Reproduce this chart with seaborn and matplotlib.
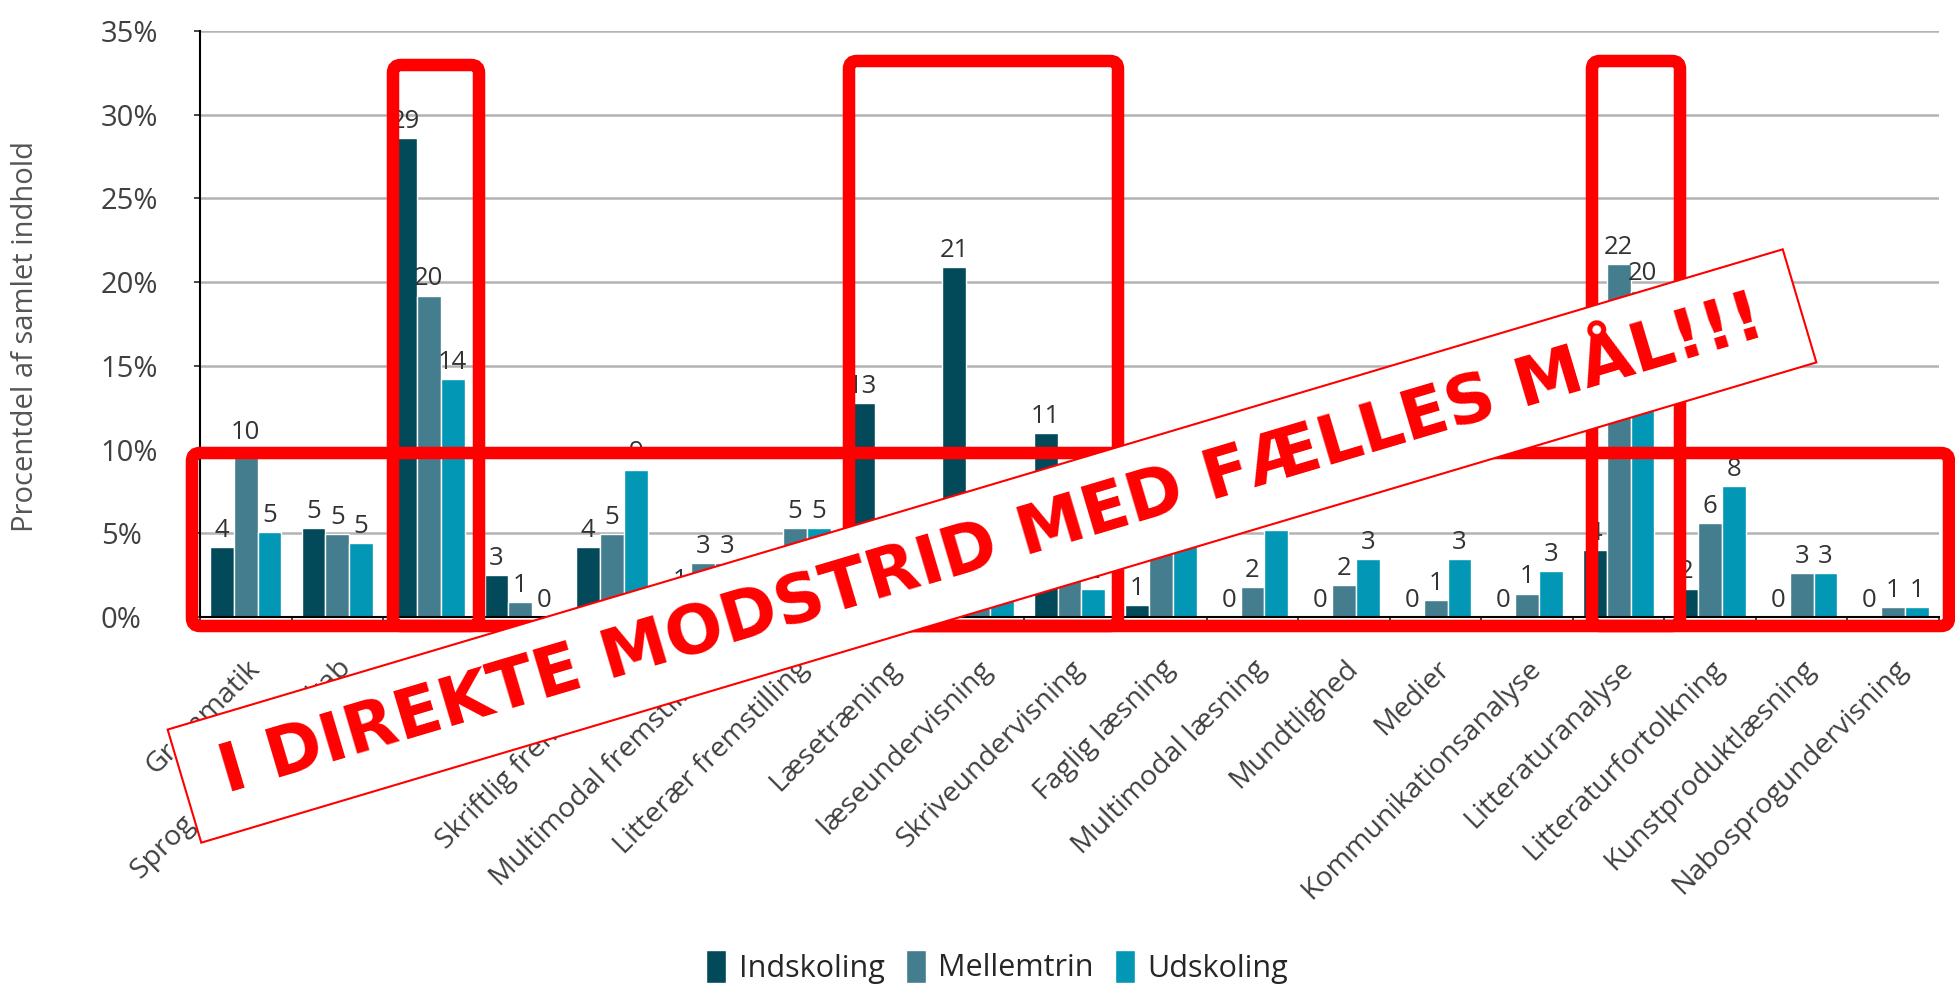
import numpy as np
import pandas as pd
import seaborn as sns
import matplotlib.pyplot as plt
from matplotlib.patches import Rectangle, FancyBboxPatch
from matplotlib.transforms import IdentityTransform

# Kategorier og andele (procent af samlet indhold)
kategorier = ["Grammatik", "Sprog og ordkendskab", "Retskrivning", "Håndskrift",
              "Skriftlig fremstilling", "Multimodal fremstilling", "Litterær fremstilling",
              "Læsetræning", "læseundervisning", "Skriveundervisning", "Faglig læsning",
              "Multimodal læsning", "Mundtlighed", "Medier", "Kommunikationsanalyse",
              "Litteraturanalyse", "Litteraturfortolkning", "Kunstproduktlæsning",
              "Nabosprogundervisning"]
trin = ["Indskoling", "Mellemtrin", "Udskoling"]

indskoling = [4.2, 5.3, 28.6, 2.5, 4.2, 1.2, 1.0, 12.8, 20.9, 11.0, 0.7, 0, 0, 0, 0, 4.0, 1.7, 0, 0]
mellemtrin = [10.0, 4.95, 19.2, 0.9, 4.95, 3.2, 5.3, 3.0, 3.0, 3.0, 4.0, 1.8, 1.9, 1.0, 1.4, 21.1, 5.6, 2.6, 0.6]
udskoling = [5.05, 4.4, 14.2, 0, 8.8, 3.2, 5.3, 1.6, 1.5, 1.7, 4.5, 5.2, 3.45, 3.45, 2.75, 19.5, 7.8, 2.6, 0.6]

# dataetiketter som i originalen
etiket_ind = ["4", "5", "29", "3", "4", "1", "1", "13", "21", "11", "1", "0", "0", "0", "0", "4", "2", "0", "0"]
etiket_mel = ["10", "5", "20", "1", "5", "3", "5", "3", "3", "3", "4", "2", "2", "1", "1", "22", "6", "3", "1"]
etiket_ud = ["5", "5", "14", "0", "9", "3", "5", "2", "2", "2", "5", "5", "3", "3", "3", "20", "8", "3", "1"]

farver = ["#024a59", "#447d8d", "#0197b5"]

df = pd.DataFrame({
    "Kategori": kategorier * 3,
    "Trin": np.repeat(trin, len(kategorier)),
    "Andel": indskoling + mellemtrin + udskoling,
})

sns.set_theme(style="white")
plt.rcParams['font.family'] = ['Open Sans', 'DejaVu Sans']

W, H = 1955, 989
fig = plt.figure(figsize=(W / 100, H / 100), dpi=100)
ax = fig.add_axes([200 / W, 1 - 617 / H, 1739 / W, 586 / H])

sns.barplot(data=df, x="Kategori", y="Andel", hue="Trin", palette=farver,
            width=0.78, saturation=1, errorbar=None, ax=ax)

for cont, etiketter in zip(ax.containers, [etiket_ind, etiket_mel, etiket_ud]):
    ax.bar_label(cont, labels=etiketter, padding=3, fontsize=18.5, color="#333333")

ax.set_ylim(0, 35)
ax.set_xlim(-0.5, len(kategorier) - 0.5)
ax.set_yticks(range(0, 36, 5))
ax.set_yticklabels([f"{v}%" for v in range(0, 36, 5)])
ax.tick_params(axis="y", length=4.5, width=1.2, pad=67, labelsize=21,
               labelcolor="#404040", left=True, direction="out")
for lbl in ax.get_yticklabels():
    lbl.set_horizontalalignment("left")

ax.set_xticks(range(len(kategorier)))
ax.set_xticklabels(kategorier, rotation=45, ha="right", rotation_mode="anchor",
                   fontsize=20.5, color="#404040")
ax.tick_params(axis="x", which="major", length=0, pad=27)
ax.set_xticks(np.arange(-0.5, len(kategorier), 1), minor=True)
ax.tick_params(axis="x", which="minor", length=6, width=1.2, bottom=True, direction="out")

ax.yaxis.grid(True, color="#b3b3b3", lw=1.8)
ax.set_axisbelow(True)
sns.despine(ax=ax)
for s in ["left", "bottom"]:
    ax.spines[s].set_color("black")
    ax.spines[s].set_linewidth(1.5)

ax.set_xlabel("")
ax.set_ylabel("Procentdel af samlet indhold", fontsize=21, color="#555555")
ax.yaxis.set_label_coords(-0.092, 0.478)

sns.move_legend(ax, "lower center", bbox_to_anchor=(997 / W, -22 / H),
                bbox_transform=fig.transFigure, ncol=3, frameon=False, title=None,
                fontsize=22, handlelength=0.65, handleheight=1.3,
                columnspacing=0.7, handletextpad=0.4)

# røde markeringer (pixelkoordinater fra toppen)
bokse = [(192, 453, 1949, 626), (393, 65, 479, 626), (849, 61, 1118, 626), (1592, 61, 1680, 626)]
for x0, y0, x1, y1 in bokse:
    fig.add_artist(FancyBboxPatch((x0, H - y1), x1 - x0, y1 - y0,
                                  boxstyle="round,pad=0,rounding_size=8",
                                  transform=IdentityTransform(), fill=False,
                                  ec="#ff0000", lw=9, zorder=5))

# banner
cx, cy, L, Hb, vinkel = 992, H - 546, 1685, 118, 16.56
fig.add_artist(Rectangle((cx - L / 2, cy - Hb / 2), L, Hb, angle=vinkel,
                         rotation_point="center", transform=IdentityTransform(),
                         fc="white", ec="#ff0000", lw=1.5, zorder=10))
txt = fig.text(cx / W, cy / H, "I DIREKTE MODSTRID MED FÆLLES MÅL!!!",
               ha="center", va="center", color="#ff0000", fontsize=60,
               fontweight="bold", family=["DejaVu Sans"], zorder=11)
fig.canvas.draw()
w = txt.get_window_extent().width
txt.set_fontsize(60 * 1609 / w)
txt.set_rotation(vinkel)
txt.set_rotation_mode("anchor")

fig.savefig("out.png", dpi=100)
